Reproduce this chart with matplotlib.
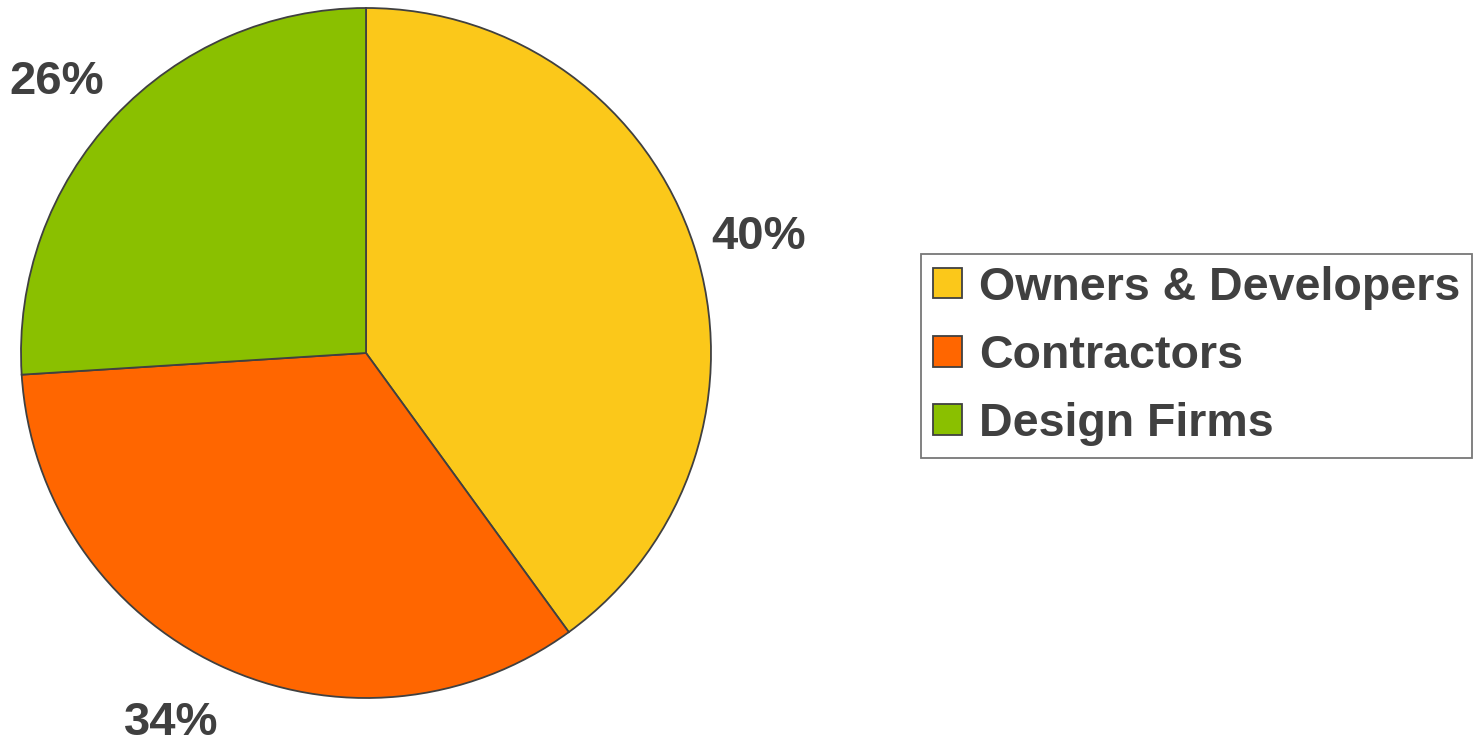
import matplotlib
matplotlib.use("Agg")
import numpy as np
import matplotlib.pyplot as plt
from matplotlib.patches import Patch

plt.rcParams['font.family'] = ['Liberation Sans', 'DejaVu Sans']

# data
categories = ['Owners & Developers', 'Contractors', 'Design Firms']
shares = [40, 34, 26]
colors = ['#FBC81A', '#FF6600', '#8AC000']
text_color = '#404040'

# small angle nudges (deg) and radii for the percentage labels
label_nudge = [-1.0, -2.8, 1.5]
label_radius = [1.19, 1.2, 1.2]

W, H = 1476, 739
fig = plt.figure(figsize=(W / 100, H / 100), dpi=100)

# pie centre (366, 353) px, radius 345 px
cx, cy, r = 366, 353, 345
ax = fig.add_axes([(cx - r) / W, (H - cy - r) / H, 2 * r / W, 2 * r / H])

wedges, _, autotexts = ax.pie(
    shares, colors=colors, startangle=90, counterclock=False, radius=1,
    autopct='%d%%', pctdistance=1.2,
    wedgeprops=dict(edgecolor='#404040', linewidth=1.3),
    textprops=dict(fontsize=34, fontweight='bold', color=text_color),
)
for w, t, dn, rr in zip(wedges, autotexts, label_nudge, label_radius):
    mid = np.deg2rad((w.theta1 + w.theta2) / 2 + dn)
    # a few px lower than the geometric spot, like the original
    t.set_position((rr * np.cos(mid), rr * np.sin(mid) - 0.012))
    t.set_va('center')
    t.set_ha('center')

ax.set_xlim(-1, 1)
ax.set_ylim(-1, 1)
ax.set_aspect('equal')
ax.axis('off')

handles = [Patch(facecolor=c, edgecolor='#404040', linewidth=1.3) for c in colors]
leg = fig.legend(
    handles, categories, loc='upper left',
    bbox_to_anchor=(921 / W, 1 - 254 / H), borderaxespad=0,
    frameon=True, fancybox=False,
    prop=dict(weight='bold', size=33.5),
    handlelength=0.63, handleheight=0.63, handletextpad=0.37,
    labelspacing=0.52, borderpad=0.25,
)
leg.get_frame().set_edgecolor('#555555')
leg.get_frame().set_linewidth(1.3)
for t in leg.get_texts():
    t.set_color(text_color)

fig.savefig('out.png', dpi=100)
